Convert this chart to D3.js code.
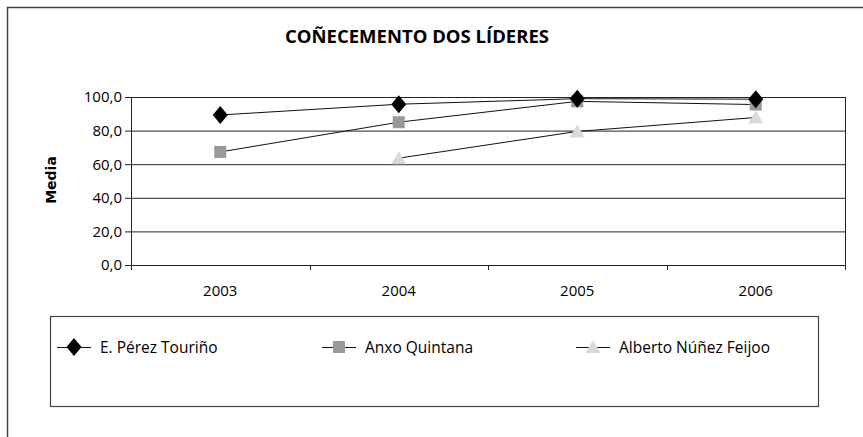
<!DOCTYPE html>
<html>
<head>
<meta charset="utf-8">
<script src="https://cdn.jsdelivr.net/npm/d3@7"></script>
<style>
  body { margin: 0; background: #fff; }
  svg { display: block; font-family: "Open Sans", sans-serif; }
</style>
</head>
<body>
<svg width="863" height="437"></svg>
<script>
// Data
var years = ["2003", "2004", "2005", "2006"];
var tourino = [89.3, 95.7, 99.0, 98.7];
var quintana = [67.3, 85.0, 97.4, 95.5];
var feijoo = [null, 63.6, 79.5, 87.8];
var yTicks = [0, 20, 40, 60, 80, 100];
var seriesNames = ["E. Pérez Touriño", "Anxo Quintana", "Alberto Núñez Feijoo"];

var svg = d3.select("svg");

// outer frame (open on the right and bottom)
svg.append("path")
  .attr("d", "M7.5,437V7.5H863")
  .attr("fill", "none")
  .attr("stroke", "#444")
  .attr("stroke-width", 1.5);

// title
svg.append("text")
  .attr("x", 417)
  .attr("y", 43)
  .attr("text-anchor", "middle")
  .style("font-size", "18.5px")
  .style("font-weight", "bold")
  .attr("fill", "#000")
  .text("COÑECEMENTO DOS LÍDERES");

// scales
var x = d3.scaleBand().domain(years).range([131, 845]).padding(0);
var y = d3.scaleLinear().domain([0, 100]).range([265, 97]);

// gridlines + y axis
var yAxis = svg.append("g")
  .attr("transform", "translate(131,0)")
  .call(d3.axisLeft(y).tickValues(yTicks).tickSize(6)
    .tickFormat(function (d) { return d3.format(".1f")(d).replace(".", ","); }));
yAxis.select(".domain").remove();
yAxis.selectAll(".tick line").attr("stroke", "#222");
yAxis.selectAll(".tick text")
  .attr("x", -9)
  .style("font-size", "15px")
  .style("font-family", "Open Sans")
  .attr("fill", "#000");

svg.append("g")
  .selectAll("line")
  .data(yTicks)
  .enter()
  .append("line")
  .attr("x1", 131)
  .attr("x2", 845)
  .attr("y1", function (d) { return y(d) + 0.5; })
  .attr("y2", function (d) { return y(d) + 0.5; })
  .attr("stroke", "#222")
  .attr("stroke-width", 1);

// vertical borders of plot area
svg.append("line").attr("x1", 131.5).attr("x2", 131.5).attr("y1", y(100)).attr("y2", y(0) + 5).attr("stroke", "#222");
svg.append("line").attr("x1", 845.5).attr("x2", 845.5).attr("y1", y(100)).attr("y2", y(0) + 5).attr("stroke", "#222");

// x ticks at band edges
svg.append("g")
  .selectAll("line")
  .data(years.slice(1))
  .enter()
  .append("line")
  .attr("x1", function (d) { return Math.round(x(d)) + 0.5; })
  .attr("x2", function (d) { return Math.round(x(d)) + 0.5; })
  .attr("y1", y(0))
  .attr("y2", y(0) + 5)
  .attr("stroke", "#222");

// x labels
svg.append("g")
  .selectAll("text")
  .data(years)
  .enter()
  .append("text")
  .attr("x", function (d) { return x(d) + x.bandwidth() / 2; })
  .attr("y", 296)
  .attr("text-anchor", "middle")
  .style("font-size", "15px")
  .attr("fill", "#000")
  .text(function (d) { return d; });

// y title
svg.append("text")
  .attr("transform", "translate(56,180) rotate(-90)")
  .attr("text-anchor", "middle")
  .style("font-size", "14px")
  .style("font-weight", "bold")
  .style("font-family", "DejaVu Sans")
  .text("Media");

// series
var diamond = "M0,-9L7.5,0L0,9L-7.5,0Z";
var square = "M-6,-6H6V6H-6Z";
var triangle = "M0,-7L7.5,6H-7.5Z";
var series = [
  { name: seriesNames[0], values: tourino, shape: diamond, fill: "#000" },
  { name: seriesNames[1], values: quintana, shape: square, fill: "#999" },
  { name: seriesNames[2], values: feijoo, shape: triangle, fill: "#d9d9d9" }
];

var line = d3.line()
  .defined(function (d) { return d != null; })
  .x(function (d, i) { return x(years[i]) + x.bandwidth() / 2; })
  .y(function (d) { return y(d); });

// lines first, then markers with the black diamonds on top
series.slice().reverse().forEach(function (s) {
  svg.append("path")
    .attr("d", line(s.values))
    .attr("fill", "none")
    .attr("stroke", "#111")
    .attr("stroke-width", 1);
});
series.slice().reverse().forEach(function (s) {
  svg.append("g")
    .selectAll("path")
    .data(s.values.map(function (v, i) { return { v: v, year: years[i] }; })
      .filter(function (d) { return d.v != null; }))
    .enter()
    .append("path")
    .attr("d", s.shape)
    .attr("fill", s.fill)
    .attr("transform", function (d) {
      return "translate(" + (x(d.year) + x.bandwidth() / 2) + "," + y(d.v) + ")";
    });
});

// legend
svg.append("rect")
  .attr("x", 50.5)
  .attr("y", 316.5)
  .attr("width", 768)
  .attr("height", 90)
  .attr("fill", "none")
  .attr("stroke", "#444")
  .attr("stroke-width", 1.2);

var legendX = [57, 322, 576];
series.forEach(function (s, i) {
  var g = svg.append("g").attr("transform", "translate(" + legendX[i] + ",347)");
  g.append("line").attr("x1", 0).attr("x2", 34).attr("y1", 0.5).attr("y2", 0.5).attr("stroke", "#111");
  g.append("path").attr("d", s.shape).attr("fill", s.fill)
    .attr("transform", "translate(17,0)");
  g.append("text")
    .attr("x", 43)
    .attr("y", 5.5)
    .style("font-size", "15.5px")
    .attr("fill", "#000")
    .text(s.name);
});
</script>
</body>
</html>
